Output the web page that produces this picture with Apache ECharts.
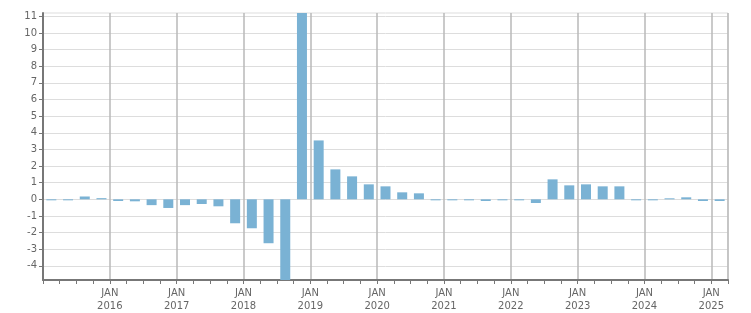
<!DOCTYPE html>
<html>
<head>
<meta charset="utf-8">
<script src="https://cdn.jsdelivr.net/npm/echarts@6/dist/echarts.min.js"></script>
<style>
html,body{margin:0;padding:0;background:#fff;}
#chart{width:751px;height:313px;}
</style>
</head>
<body>
<div id="chart"></div>
<script>
// Quarterly categories, 2015 Q1 .. 2025 Q1
const quarters = [
  '2015 Q1','2015 Q2','2015 Q3','2015 Q4',
  '2016 Q1','2016 Q2','2016 Q3','2016 Q4',
  '2017 Q1','2017 Q2','2017 Q3','2017 Q4',
  '2018 Q1','2018 Q2','2018 Q3','2018 Q4',
  '2019 Q1','2019 Q2','2019 Q3','2019 Q4',
  '2020 Q1','2020 Q2','2020 Q3','2020 Q4',
  '2021 Q1','2021 Q2','2021 Q3','2021 Q4',
  '2022 Q1','2022 Q2','2022 Q3','2022 Q4',
  '2023 Q1','2023 Q2','2023 Q3','2023 Q4',
  '2024 Q1','2024 Q2','2024 Q3','2024 Q4',
  '2025 Q1'
];
const values = [
  -0.06, -0.06, 0.17, 0.07,
  -0.1, -0.12, -0.35, -0.52,
  -0.35, -0.28, -0.42, -1.44,
  -1.74, -2.64, -5.3, 11.6,
  3.54, 1.8, 1.38, 0.9,
  0.78, 0.42, 0.36, -0.05,
  -0.05, -0.05, -0.1, -0.05,
  -0.05, -0.22, 1.2, 0.84,
  0.9, 0.78, 0.78, -0.05,
  -0.05, 0.06, 0.12, -0.1,
  -0.1
];
const yTicks = [-4,-3,-2,-1,0,1,2,3,4,5,6,7,8,9,10,11];
const yMin = -4.85;
const yMax = 11.2;

const textColor = '#666666';
const fontFamily = 'DejaVu Sans';

const chart = echarts.init(document.getElementById('chart'), null, {renderer: 'canvas'});
chart.setOption({
  animation: false,
  grid: {
    left: 43, right: 23, top: 13, bottom: 32,
    show: true, borderColor: '#dddddd', borderWidth: 1,
    containLabel: false
  },
  xAxis: {
    type: 'category',
    data: quarters,
    boundaryGap: true,
    axisLine: {show: true, onZero: false, lineStyle: {color: '#777777', width: 2}},
    axisTick: {show: true, interval: 0, length: 4, lineStyle: {color: '#777777', width: 1}},
    splitLine: {
      show: true,
      interval: function (i) { return i % 4 === 0; },
      lineStyle: {color: '#b8b8b8', width: 1.5}
    },
    axisLabel: {
      show: true,
      interval: function (i) { return i % 4 === 0 && i > 0; },
      formatter: function (v) { return 'JAN\n' + v.slice(0, 4); },
      color: textColor,
      fontFamily: fontFamily,
      fontSize: 10,
      lineHeight: 13,
      margin: 7,
      padding: [0, 16.7, 0, 0]
    }
  },
  yAxis: {
    type: 'value',
    min: yMin,
    max: yMax,
    splitNumber: 16,
    axisLine: {show: true, lineStyle: {color: '#777777', width: 2}},
    axisTick: {show: true, length: 4, customValues: yTicks, lineStyle: {color: '#777777', width: 1}},
    splitLine: {show: true, lineStyle: {color: '#dddddd', width: 1}},
    axisLabel: {
      customValues: yTicks,
      showMinLabel: true,
      showMaxLabel: true,
      formatter: function (v) { return Number.isInteger(v) ? String(v) : ''; },
      color: textColor,
      fontFamily: fontFamily,
      fontSize: 10,
      margin: 6
    }
  },
  series: [{
    type: 'bar',
    data: values,
    barWidth: 10,
    barMinHeight: 1,
    clip: true,
    itemStyle: {color: '#7ab2d4'}
  }]
});
</script>
</body>
</html>
